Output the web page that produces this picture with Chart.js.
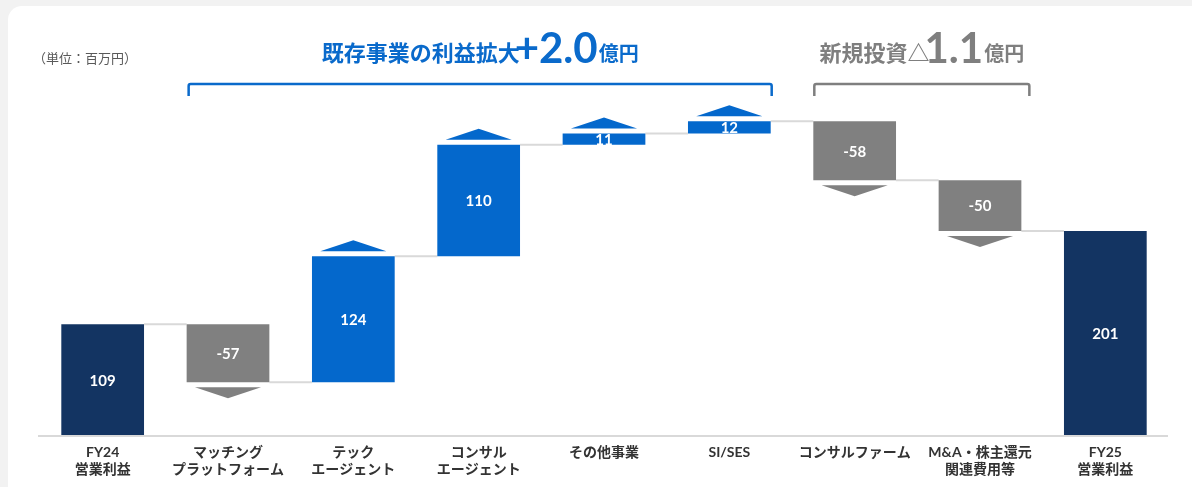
<!DOCTYPE html>
<html lang="ja">
<head>
<meta charset="utf-8">
<script src="https://cdn.jsdelivr.net/npm/chart.js@4.4.1/dist/chart.umd.min.js"></script>
<style>
  html, body { margin: 0; padding: 0; width: 1192px; height: 487px; overflow: hidden; background: #f2f2f2; }
  #card { position: absolute; left: 8px; top: 6px; width: 1200px; height: 500px; background: #fff; border-radius: 14px; }
  #wrap { position: absolute; left: 0; top: 0; width: 1192px; height: 487px; }
</style>
</head>
<body>
<div id="card"></div>
<div id="wrap"><canvas id="c" width="1192" height="487"></canvas></div>
<script>
// ---- data ----
const categories = [
  ['FY24', '営業利益'],
  ['マッチング', 'プラットフォーム'],
  ['テック', 'エージェント'],
  ['コンサル', 'エージェント'],
  'その他事業',
  'SI/SES',
  'コンサルファーム',
  ['M&A・株主還元', '関連費用等'],
  ['FY25', '営業利益']
];
const changes = [109, -57, 124, 110, 11, 12, -58, -50, 201];
const isTotal = [true, false, false, false, false, false, false, false, true];
const unitLabel = '（単位：百万円）';
const groupExisting = { pre: '既存事業の利益拡大', big: '+2.0', post: '億円', from: 1, to: 5 };
const groupNew = { pre: '新規投資△', big: '1.1', post: '億円', from: 6, to: 7 };

// ---- derived floating ranges ----
const ranges = [];
let run = 0;
changes.forEach((v, i) => {
  if (isTotal[i]) { ranges.push([0, v]); run = v; }
  else { ranges.push([run, run + v]); run += v; }
});

const NAVY = '#133462', BLUE = '#0468cc', GRAY = '#808080', LINE = '#d9d9d9';
const colors = changes.map((v, i) => isTotal[i] ? NAVY : (v >= 0 ? BLUE : GRAY));
const JP = "'Noto Sans CJK JP', sans-serif";
const LAT = "Lato, 'Noto Sans CJK JP', sans-serif";

const decor = {
  id: 'decor',
  beforeDatasetsDraw(chart) {
    const { ctx, scales: { x, y } } = chart;
    const meta = chart.getDatasetMeta(0);
    ctx.save();
    ctx.strokeStyle = LINE; ctx.lineWidth = 2;
    ctx.beginPath(); ctx.moveTo(38, y.getPixelForValue(0) + 1); ctx.lineTo(1168, y.getPixelForValue(0) + 1); ctx.stroke();
    for (let i = 0; i < meta.data.length - 1; i++) {
      const a = meta.data[i], b = meta.data[i + 1];
      const lvl = y.getPixelForValue(ranges[i][1]);
      ctx.beginPath();
      ctx.moveTo(a.x + a.width / 2, lvl);
      ctx.lineTo(b.x - b.width / 2, lvl);
      ctx.stroke();
    }
    ctx.restore();
  },
  afterDatasetsDraw(chart) {
    const { ctx, scales: { x, y } } = chart;
    const meta = chart.getDatasetMeta(0);
    ctx.save();
    meta.data.forEach((bar, i) => {
      const top = y.getPixelForValue(Math.max(...ranges[i]));
      const bot = y.getPixelForValue(Math.min(...ranges[i]));
      if (!isTotal[i]) {
        const hw = bar.width * 0.4;
        ctx.fillStyle = colors[i];
        ctx.beginPath();
        if (changes[i] > 0) {
          ctx.moveTo(bar.x - hw, top - 5); ctx.lineTo(bar.x + hw, top - 5); ctx.lineTo(bar.x, top - 16);
        } else {
          ctx.moveTo(bar.x - hw, bot + 5); ctx.lineTo(bar.x + hw, bot + 5); ctx.lineTo(bar.x, bot + 16);
        }
        ctx.closePath(); ctx.fill();
      }
      ctx.fillStyle = '#fff';
      ctx.font = 'bold 15px ' + LAT;
      ctx.textAlign = 'center'; ctx.textBaseline = 'middle';
      ctx.fillText(String(changes[i]), bar.x, (top + bot) / 2 + 1);
    });
    ctx.fillStyle = '#595959';
    ctx.font = '13px ' + JP;
    ctx.textAlign = 'left'; ctx.textBaseline = 'alphabetic';
    ctx.fillText(unitLabel, 33, 63);
    function group(g, color, extraL, extraR) {
      const a = meta.data[g.from], b = meta.data[g.to];
      const l = a.x - a.width / 2 + extraL, r = b.x + b.width / 2 + extraR;
      ctx.strokeStyle = color; ctx.lineWidth = 2.5; ctx.lineJoin = 'round';
      ctx.beginPath();
      ctx.moveTo(l, 96); ctx.lineTo(l, 86); ctx.arcTo(l, 84, l + 2, 84, 2);
      ctx.lineTo(r - 2, 84); ctx.arcTo(r, 84, r, 86, 2); ctx.lineTo(r, 96);
      ctx.stroke();
      ctx.fillStyle = color; ctx.textBaseline = 'alphabetic'; ctx.textAlign = 'left';
      const f1 = 'bold 22px ' + JP, f2 = 'bold 42px Lato, sans-serif', f3 = 'bold 20px ' + JP;
      ctx.font = f1; const w1 = ctx.measureText(g.pre).width;
      ctx.font = f2; const w2 = ctx.measureText(g.big).width;
      ctx.font = f3; const w3 = ctx.measureText(g.post).width;
      const total = w1 + w2 + w3 - 4;
      let sx = (l + r) / 2 - total / 2;
      ctx.font = f1; ctx.fillText(g.pre, sx, 61); sx += w1 - 5;
      ctx.font = f2; ctx.fillText(g.big, sx, 63); sx += w2 + 1;
      ctx.font = f3; ctx.fillText(g.post, sx, 61);
    }
    group(groupExisting, '#0a6acb', 2, 1);
    group(groupNew, '#7f7f7f', 1, 8);
    ctx.restore();
  }
};

new Chart(document.getElementById('c'), {
  type: 'bar',
  data: {
    labels: categories,
    datasets: [{
      data: ranges,
      backgroundColor: colors,
      borderWidth: 0,
      categoryPercentage: 1,
      barPercentage: 0.66
    }]
  },
  options: {
    responsive: false,
    animation: false,
    devicePixelRatio: 1,
    layout: { padding: { left: 40, right: 24, top: 100, bottom: 0 } },
    plugins: { legend: { display: false }, tooltip: { enabled: false } },
    scales: {
      y: { display: false, min: 0, max: 330 },
      x: {
        grid: { display: false },
        border: { display: false },
        ticks: {
          color: '#333',
          font: { family: LAT, size: 14, weight: 'bold', lineHeight: 1.22 },
          padding: 1,
          maxRotation: 0,
          autoSkip: false
        },
        afterFit(scale) { scale.height = 52; }
      }
    }
  },
  plugins: [decor]
});
</script>
</body>
</html>
